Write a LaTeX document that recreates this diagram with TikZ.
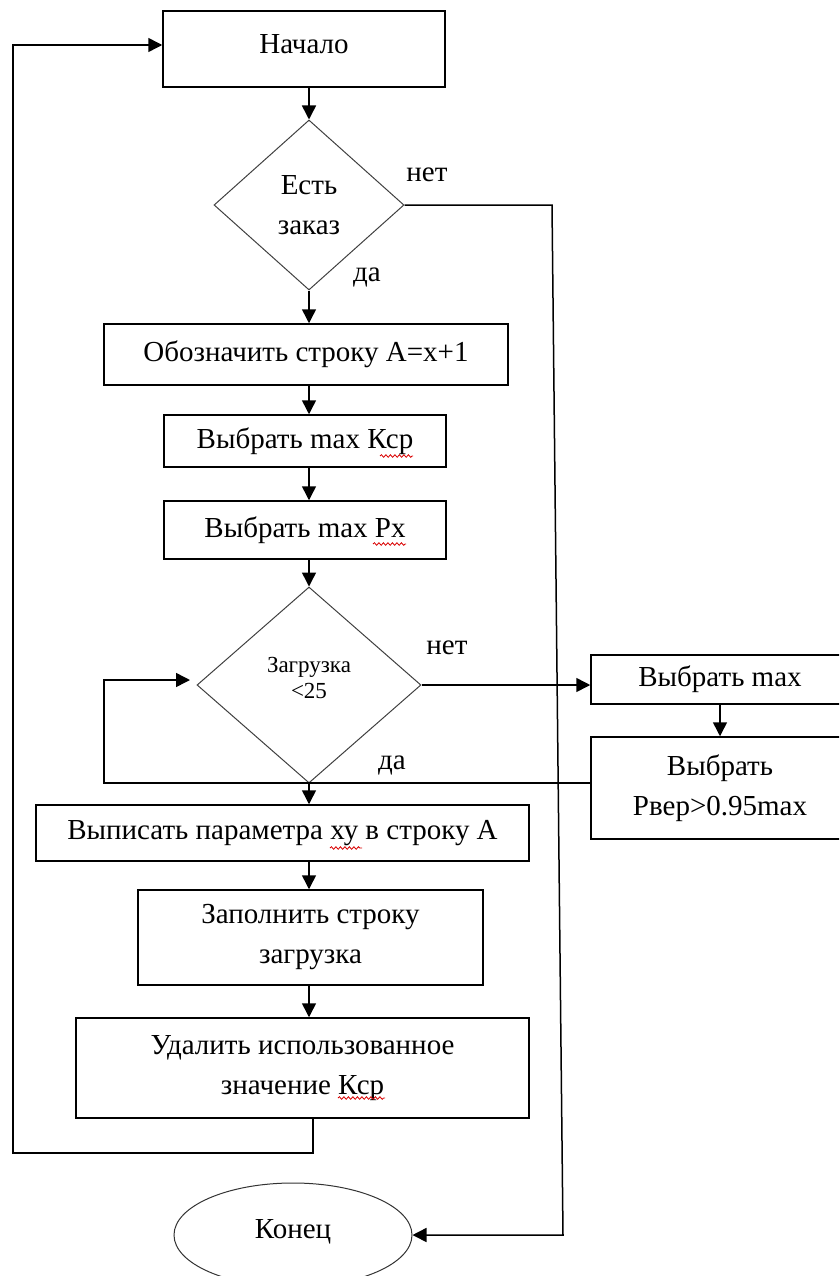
\documentclass[tikz,border=0pt]{standalone}
\usepackage{fontspec}
\setmainfont{Liberation Serif}
\usetikzlibrary{arrows.meta,shapes.geometric,decorations.pathmorphing}

\begin{document}
\begin{tikzpicture}[x=1pt,y=-1pt,
  txt/.style={font=\fontsize{29}{40}\selectfont},
  small/.style={font=\fontsize{23}{31}\selectfont},
  box/.style={draw, line width=1.5pt, rectangle, inner sep=0pt, align=center, txt},
  dec/.style={draw=black!75, line width=1pt, diamond, inner sep=0pt, align=center},
  term/.style={draw=black!80, line width=1pt, ellipse, inner sep=0pt, txt},
  flow/.style={line width=1.5pt, -{Triangle[width=14pt,length=14pt]}},
  branchtag/.style={txt, inner sep=0pt},
  spell/.style={draw=red!85!black, line width=0.8pt, decorate,
    decoration={snake, amplitude=1.3pt, segment length=4.5pt}}
]
\useasboundingbox (0,0) rectangle (839,1276);
\clip (0,0) rectangle (839,1276);

% main column
\node[box, minimum width=282, minimum height=76] (start) at (304,49) {\raisebox{9pt}{Начало}};
\node[dec, minimum width=190, minimum height=170, txt] (d1) at (309,205) {Есть\\заказ};
\node[box, minimum width=404, minimum height=61] (b1) at (306,354.5) {Обозначить строку А=x+1};
\node[box, minimum width=282, minimum height=52] (b2) at (305,441) {Выбрать max Кср};
\node[box, minimum width=282, minimum height=58] (b3) at (305,530) {Выбрать max Рх};
\node[dec, minimum width=224, minimum height=196, small] (d2) at (309,685) {\raisebox{14pt}{\shortstack{Загрузка\\[3pt]<25}}};
\node[box, minimum width=493, minimum height=56] (w) at (282.5,833) {Выписать параметра ху в строку А};
\node[box, minimum width=345, minimum height=95] (f) at (310.5,937.5) {Заполнить строку\\загрузка};
\node[box, minimum width=453, minimum height=100] (u) at (302.5,1068) {Удалить использованное\\значение Кср};
\node[term, minimum width=238, minimum height=104] (end) at (293,1235) {\raisebox{12pt}{Конец}};

% side branch
\node[box, minimum width=258, minimum height=49] (m1) at (720,679.5) {Выбрать max};
\node[box, minimum width=258, minimum height=102] (m2) at (720,788) {Выбрать\\Рвер>0.95max};

% branch labels
\node[branchtag] (no1) at (427,175) {нет};
\node[branchtag] (yes1) at (367,277) {да};
\node[branchtag] (no2) at (447,648) {нет};
\node[branchtag] (yes2) at (392,765) {да};

% helper points
\coordinate (spine) at (309,0);
\coordinate (n1a) at (552,205);
\coordinate (n1b) at (563,1235);
\coordinate (r1) at (104,783);
\coordinate (r2) at (104,680);
\coordinate (r3) at (190,680);
\coordinate (k1) at (313,1153);
\coordinate (k2) at (13,1153);
\coordinate (k3) at (13,45);

% connectors
\draw[flow] (start.south -| spine) -- (d1.north);
\draw[flow] (d1.south) -- (b1.north -| d1.south);
\draw[flow] (b1.south -| spine) -- (b2.north -| spine);
\draw[flow] (b2.south -| spine) -- (b3.north -| spine);
\draw[flow] (b3.south -| spine) -- (d2.north);
\draw[flow] (d2.south) -- (w.north -| d2.south);
\draw[flow] (w.south -| spine) -- (f.north -| spine);
\draw[flow] (f.south -| spine) -- (u.north -| spine);
\draw[flow] (d1.east) -- (n1a) -- (n1b) -- (end.east);
\draw[flow] (d2.east) -- (d2.east -| m1.west);
\draw[flow] (m1.south) -- (m2.north);
\draw[flow] ([yshift=5pt]m2.west) -- (r1) -- (r2) -- (r3);
\draw[flow] (u.south -| k1) -- (k1) -- (k2) -- (k3) -- (k3 -| start.west);

% spell-check underlines
\draw[spell] (380,456) -- (413,456);
\draw[spell] (373,544) -- (406,544);
\draw[spell] (330,848) -- (362,848);
\draw[spell] (338,1098) -- (385,1098);
\end{tikzpicture}
\end{document}
